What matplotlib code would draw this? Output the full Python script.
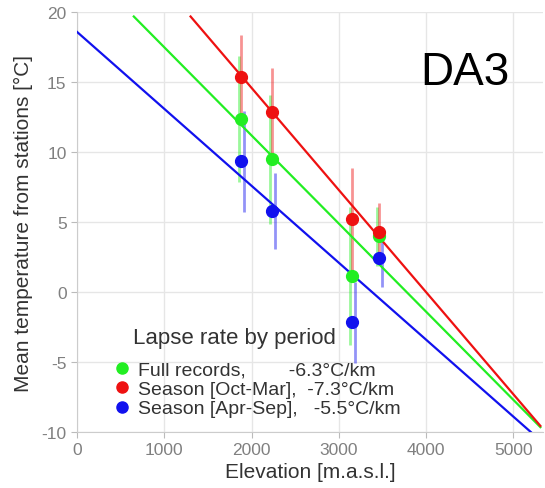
import numpy as np
import matplotlib
matplotlib.use('Agg')
from matplotlib import pyplot as plt
from matplotlib.lines import Line2D

plt.rcParams['font.family'] = ['Liberation Sans', 'DejaVu Sans']
plt.rcParams['axes.unicode_minus'] = False

# station elevations (m a.s.l.)
elev = [1880, 2236, 3152, 3463]

# mean temperature and spread per period
full_mean = [12.4, 9.5, 1.15, 4.0]
full_err = [4.5, 4.6, 4.9, 2.1]
oct_mean = [15.4, 12.9, 5.2, 4.3]
oct_err = [3.0, 3.1, 3.7, 2.1]
apr_mean = [9.35, 5.8, -2.15, 2.45]
apr_err = [3.6, 2.7, 2.9, 2.1]

# fitted lapse rates (degC/km) and intercepts (degC at 0 m)
slopes = [-6.3, -7.3, -5.5]
intercepts = [23.8, 29.2, 18.6]
labels = ['Full records,        -6.3°C/km',
          'Season [Oct-Mar],  -7.3°C/km',
          'Season [Apr-Sep],   -5.5°C/km']
colors = ['#22ee22', '#ee1111', '#1111ee']
bar_shift = [-25, 0, 30]

fig = plt.figure(figsize=(5.45, 4.89), dpi=100)
ax = fig.add_axes([77 / 545, 1 - 433 / 489, 466 / 545, 419.7 / 489])

means = [full_mean, oct_mean, apr_mean]
errs = [full_err, oct_err, apr_err]

# regression lines
for s, b, c in zip(slopes, intercepts, colors):
    x_lo = max(0.0, (b - 19.7) / -s * 1000)
    x_hi = min(5310.0, (b + 10) / -s * 1000)
    xs = np.array([x_lo, x_hi])
    ax.plot(xs, b + s * xs / 1000, color=c, lw=1.6, zorder=3)

# error bars
for m, e, c, d in zip(means, errs, colors, bar_shift):
    ax.errorbar(np.array(elev) + d, m, yerr=e, fmt='none', ecolor=c,
                elinewidth=2, alpha=0.45, capsize=0, zorder=2)

# station means
for m, c in zip(means, colors):
    ax.plot(elev, m, 'o', color=c, ms=8.5, zorder=4)

ax.set_xlim(0, 5340)
ax.set_ylim(-10, 20)
ax.set_xticks(range(0, 5001, 1000))
ax.set_yticks(range(-10, 21, 5))
ax.grid(True, color='#e6e6e6', lw=1)
ax.set_axisbelow(True)
for side in ['top', 'right']:
    ax.spines[side].set_visible(False)
for side in ['left', 'bottom']:
    ax.spines[side].set_color('#cccccc')
ax.tick_params(colors='#bbbbbb', labelcolor='#808080', labelsize=12.5, length=4)

ax.set_xlabel('Elevation [m.a.s.l.]', fontsize=15, color='#333333', labelpad=3)
ax.set_ylabel('Mean temperature from stations [°C]', fontsize=15, color='#333333', labelpad=6)

ax.text(0.832, 0.857, 'DA3', transform=ax.transAxes, fontsize=33,
        ha='center', va='center', color='black')

# legend
ax.text(0.12, 0.225, 'Lapse rate by period', transform=ax.transAxes,
        fontsize=16, color='#333333', ha='left', va='center')
handles = [Line2D([], [], marker='o', ls='none', color=c, ms=8) for c in colors]
ax.legend(handles, labels, loc='upper left', bbox_to_anchor=(0.055, 0.193),
          frameon=False, fontsize=14, labelspacing=0.1, handletextpad=0.3,
          handlelength=1.0, borderpad=0, labelcolor='#333333')

plt.savefig('out.png', dpi=100)
